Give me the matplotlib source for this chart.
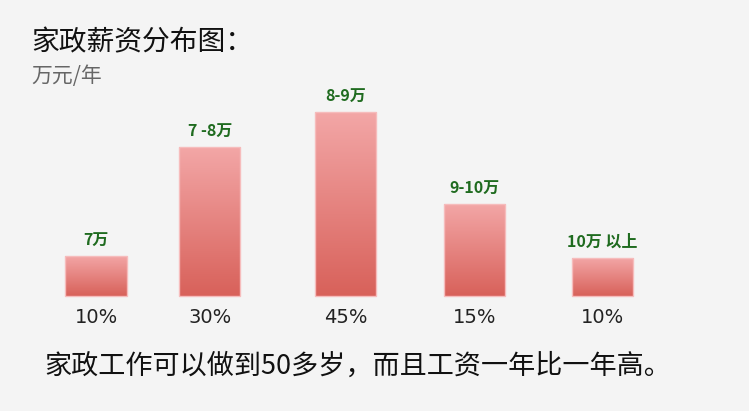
import numpy as np
import matplotlib.pyplot as plt
from matplotlib.colors import LinearSegmentedColormap

plt.rcParams['font.family'] = ['Noto Sans CJK SC', 'DejaVu Sans']

# data
ranges = ['7万', '7 -8万', '8-9万', '9-10万', '10万 以上']
shares = ['10%', '30%', '45%', '15%', '10%']
heights = [40, 149, 184, 92, 38]   # drawn bar heights (not proportional in original)
xpos = [0, 0.9, 1.97, 2.99, 4]

fig = plt.figure(figsize=(7.49, 4.11), dpi=100)
fig.patch.set_facecolor('#f4f4f4')
ax = fig.add_axes([0, 0, 1, 1])
ax.set_facecolor('#f4f4f4')
ax.set_xlim(-96 / 126.6, (749 - 96) / 126.6)
ax.set_ylim(-115, 296)
ax.axis('off')

cmap = LinearSegmentedColormap.from_list('g', ['#d8615a', '#f3a7a7'])
grad = np.linspace(0, 1, 256).reshape(-1, 1)
w = 0.482
bars = ax.bar(xpos, heights, width=w, color='none', edgecolor='#f6bcbc', linewidth=1, zorder=3)
for b, h in zip(bars, heights):
    x0 = b.get_x()
    im = ax.imshow(grad, cmap=cmap, aspect='auto', origin='lower',
                   extent=[x0, x0 + w, 0, h], zorder=2)
    im.set_clip_path(b)

for x, h, r, s in zip(xpos, heights, ranges, shares):
    ax.text(x, h + 16, r, ha='center', va='center', fontsize=11.5,
            color='#1f6b1f', fontweight='bold')
    ax.text(x, -21, s, ha='center', va='center', fontsize=14, color='#222222',
            family='DejaVu Sans')

fig.text(31 / 749, 1 - 42 / 411, '家政薪资分布图：', ha='left', va='center',
         fontsize=20, color='#111111')
fig.text(31 / 749, 1 - 76 / 411, '万元/年', ha='left', va='center',
         fontsize=15, color='#666666')
fig.text(44 / 749, 1 - 366 / 411, '家政工作可以做到50多岁，而且工资一年比一年高。',
         ha='left', va='center', fontsize=19.5, color='#111111')

fig.savefig('out.png', dpi=100, facecolor=fig.get_facecolor())
